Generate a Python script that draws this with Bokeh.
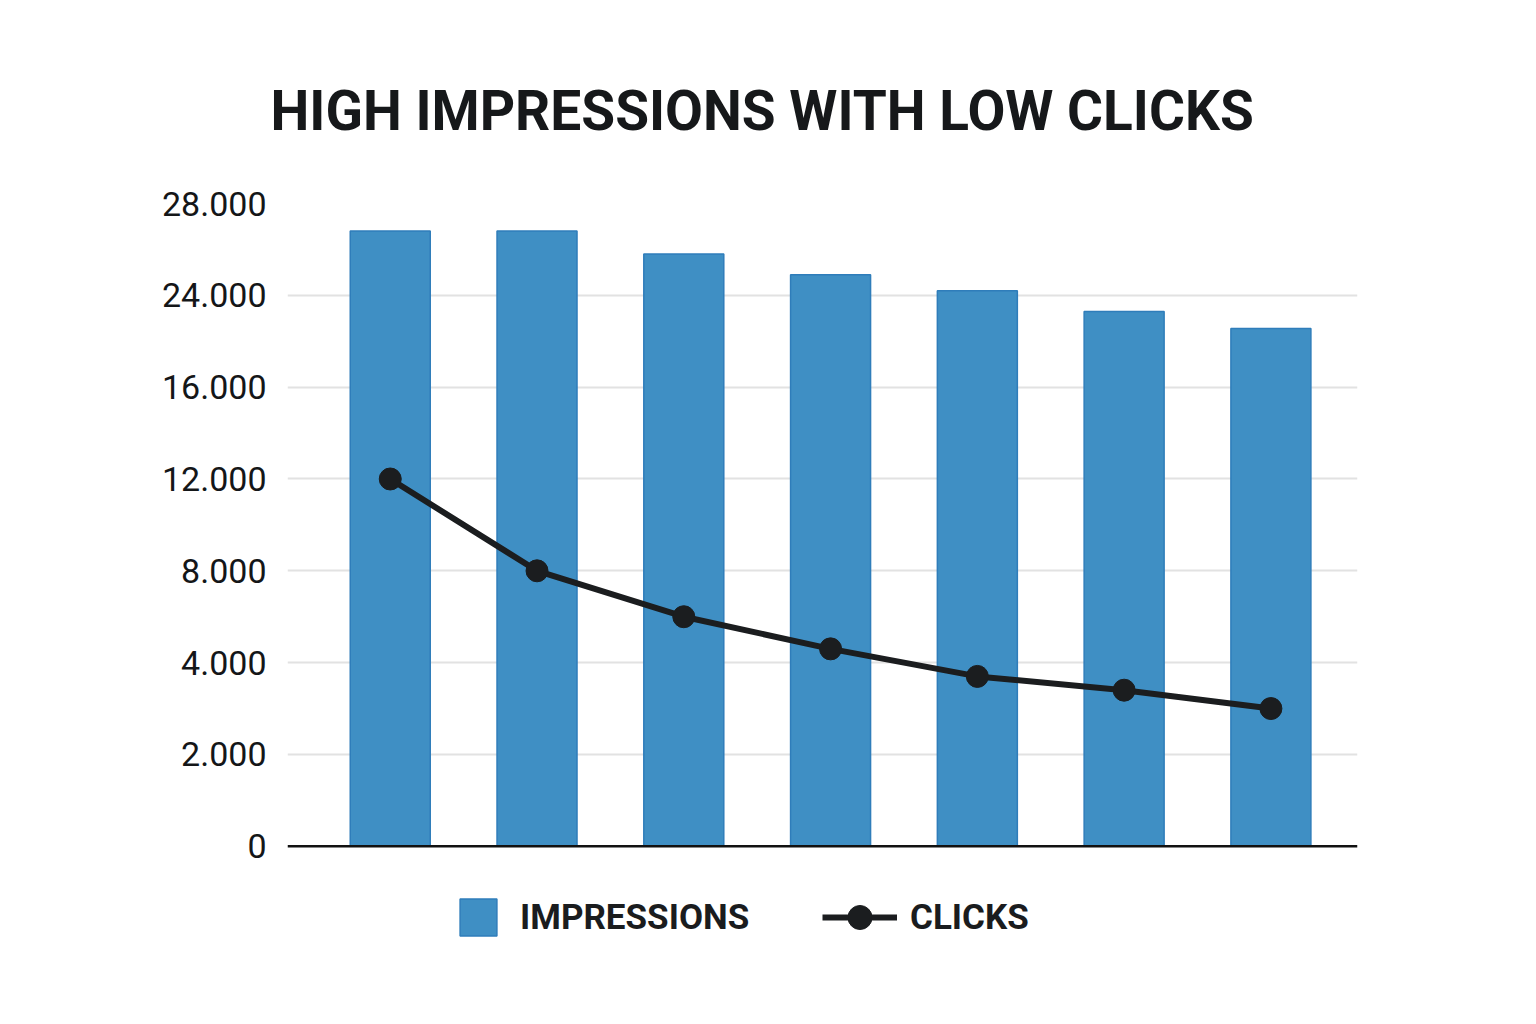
import numpy as np
from bokeh.plotting import figure
from bokeh.models import (Range1d, FixedTicker, Legend, LegendItem, ColumnDataSource, Span)
from bokeh.embed import file_html
from bokeh.resources import INLINE

# ---- data ----
categories = ["1", "2", "3", "4", "5", "6", "7"]
impressions = [26800, 26800, 25800, 24900, 24200, 22600, 21100]
clicks = [12000, 8000, 6000, 4600, 3700, 3400, 3000]
tick_values = [0, 2000, 4000, 8000, 12000, 16000, 24000, 28000]
tick_labels = ["0", "2.000", "4.000", "8.000", "12.000", "16.000", "24.000", "28.000"]

# the chart's y axis places its tick values at equal spacing (piecewise scale)
tick_pos = list(range(len(tick_values)))
def to_axis(v):
    return np.interp(v, tick_values, tick_pos)

x = np.arange(1, len(categories) + 1)
src = ColumnDataSource(dict(x=x, imp=to_axis(impressions), clk=to_axis(clicks)))

W, H = 1520, 1000
# frame extends below the baseline so that the legend can sit inside it
p = figure(width=W, height=H, output_backend="svg", toolbar_location=None,
           x_range=Range1d(0.30, 7.59), y_range=Range1d(-1.2, 7),
           min_border_left=287, min_border_right=163, min_border_top=203, min_border_bottom=44)
p.outline_line_color = None
p.background_fill_color = "white"
p.border_fill_color = "white"

bars = p.vbar(x="x", top="imp", bottom=0, width=0.545, source=src,
              fill_color="#3F8FC4", line_color="#2F7DBA", line_width=1.5)
ln = p.line(x="x", y="clk", source=src, line_color="#1b1d1f", line_width=6)
pts = p.scatter(x="x", y="clk", source=src, size=22, fill_color="#1b1d1f", line_color="#1b1d1f")

# axes
p.yaxis.ticker = FixedTicker(ticks=tick_pos)
p.yaxis.major_label_overrides = {i: l for i, l in zip(tick_pos, tick_labels)}
p.yaxis.axis_line_color = None
p.yaxis.major_tick_line_color = None
p.yaxis.minor_tick_line_color = None
p.yaxis.major_label_text_font = "Roboto"
p.yaxis.major_label_text_font_size = "34px"
p.yaxis.major_label_text_color = "#141618"
p.yaxis.major_label_standoff = 15

p.xaxis.visible = False
p.add_layout(Span(location=0, dimension="width", line_color="#111111", line_width=2.5))

p.xgrid.grid_line_color = None
p.ygrid.ticker = FixedTicker(ticks=tick_pos[1:])
p.ygrid.grid_line_color = "#e2e2e2"
p.ygrid.grid_line_width = 2

# title
p.title.text = "HIGH IMPRESSIONS WITH LOW CLICKS"
p.title.align = "left"
p.title.text_font = "Roboto"
p.title.text_font_style = "bold"
p.title.text_font_size = "55px"
p.title.text_color = "#16181a"
p.title.standoff = 121
p.title.offset = -17

# legends
common = dict(orientation="horizontal", padding=0, margin=0, border_line_color=None,
              background_fill_alpha=0, label_text_font="Roboto", label_text_font_size="35px",
              label_text_font_style="bold", label_text_color="#1a1c1e")
leg1 = Legend(items=[LegendItem(label="IMPRESSIONS", renderers=[bars])],
              location=(168, 16), glyph_width=46, glyph_height=46, label_standoff=19, **common)
leg2 = Legend(items=[LegendItem(label="CLICKS", renderers=[ln, pts])],
              location=(535, 9), glyph_width=75, glyph_height=60, label_standoff=13, **common)
p.add_layout(leg1, "center")
p.add_layout(leg2, "center")

open("out.html", "w").write(file_html(p, INLINE))
